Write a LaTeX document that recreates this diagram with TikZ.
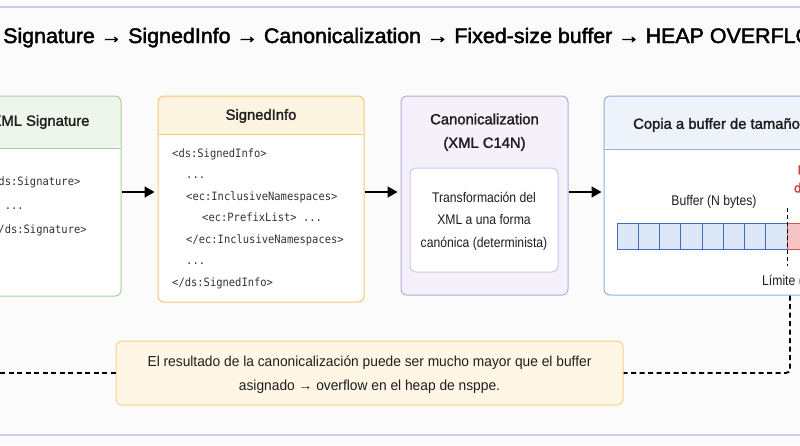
\documentclass[tikz,border=0pt]{standalone}
\usepackage{fontspec}
\setmainfont{Liberation Sans}
\newfontfamily\ttlfont[FakeBold=2,FakeStretch=1.02]{Liberation Sans}
\newfontfamily\hdfont[FakeBold=1.8]{Liberation Sans}
\newfontfamily\bdfont[FakeStretch=0.87]{Liberation Sans}
\newfontfamily\ntfont[FakeStretch=0.95]{Liberation Sans}
\newfontfamily\cdfont[FakeStretch=0.91]{DejaVu Sans Mono}
\usetikzlibrary{arrows.meta}
\definecolor{bgc}{HTML}{FBFBFB}
\definecolor{rulec}{HTML}{C9CEE3}
\definecolor{grnb}{HTML}{A8CF9E}
\definecolor{grnh}{HTML}{EEF6EB}
\definecolor{orb}{HTML}{F6C76E}
\definecolor{orh}{HTML}{FDF3E1}
\definecolor{purb}{HTML}{B9AAD8}
\definecolor{purf}{HTML}{F4F1FA}
\definecolor{puri}{HTML}{CFC4E8}
\definecolor{blub}{HTML}{8FB0DB}
\definecolor{bluh}{HTML}{EEF3FB}
\definecolor{cellf}{HTML}{DCE8F7}
\definecolor{cellb}{HTML}{3F6FB0}
\definecolor{redf}{HTML}{F6C4C4}
\definecolor{redb}{HTML}{D9534F}
\definecolor{redt}{HTML}{D23C3C}
\definecolor{notef}{HTML}{FFF6E5}
\definecolor{noteb}{HTML}{F8D08C}
\definecolor{codec}{HTML}{333333}
\definecolor{txtc}{HTML}{1E1E1E}
\begin{document}
\begin{tikzpicture}[x=1pt,y=-1pt,
  panel/.style n args={3}{draw=#1, fill=white, rounded corners=6pt, line width=1pt, inner sep=0pt,
    path picture={\fill[#2] (path picture bounding box.north west) rectangle ([yshift=-#3]path picture bounding box.north east);
      \draw[#1, line width=1pt] ([yshift=-#3]path picture bounding box.north west) -- ([yshift=-#3]path picture bounding box.north east);}},
  plainbox/.style={rounded corners=6pt, line width=1pt, inner sep=0pt},
  hdtext/.style={font=\hdfont\fontsize{14.8}{18}\selectfont, text=txtc, inner sep=0pt},
  bdtext/.style={font=\bdfont\fontsize{14}{22.5}\selectfont, text=txtc, inner sep=0pt, align=center},
  code/.style={font=\cdfont\fontsize{11.5}{14}\selectfont, text=codec, inner sep=0pt, anchor=base west},
  cell/.style={draw=cellb, fill=cellf, line width=0.8pt, minimum width=21.25pt, minimum height=26pt, inner sep=0pt},
  rcell/.style={draw=redb, fill=redf, line width=0.8pt, minimum width=21.25pt, minimum height=26pt, inner sep=0pt},
  arr/.style={line width=1.6pt, -{Triangle[length=10pt,width=11pt]}},
  fb/.style={line width=1.8pt, dash pattern=on 5pt off 3.5pt},
]
\useasboundingbox (0,0) rectangle (800,445);
\clip (0,0) rectangle (800,445);
\fill[bgc] (0,0) rectangle (800,445);
\draw[rulec, line width=1.5pt] (0,7) -- (800,7);
\draw[rulec, line width=1.5pt] (0,435) -- (800,435);

% title
\node[anchor=base west, inner sep=0pt, text=black, font=\ttlfont\fontsize{21}{25}\selectfont] (title) at (3,43)
  {Signature → SignedInfo → Canonicalization → Fixed-size buffer → HEAP OVERFLOW};

% boxes
\node[panel={grnb}{grnh}{52pt}, minimum width=161pt, minimum height=200pt] (sig) at (40.5,196) {};
\node[panel={orb}{orh}{38pt}, minimum width=206pt, minimum height=206pt] (sinf) at (261,199) {};
\node[plainbox, draw=purb, fill=purf, minimum width=167pt, minimum height=199pt] (c14n) at (484.5,195.5) {};
\node[plainbox, draw=puri, fill=white, minimum width=148pt, minimum height=104pt] (inner) at (484,220) {};
\node[panel={blub}{bluh}{53pt}, minimum width=296pt, minimum height=199pt] (copy) at (752,195.5) {};
\node[plainbox, draw=noteb, fill=notef, minimum width=507pt, minimum height=64pt] (note) at (369.5,373) {};

% box 1 text
\node[hdtext] (sigt) at (40.5,122) {XML Signature};
\node[code] (s1) at (-8,185) {<ds:Signature>};
\node[code] (s2) at (4.6,209) {...};
\node[code] (s3) at (-8,233) {</ds:Signature>};

% box 2 text
\node[hdtext] (sinft) at (261,116) {SignedInfo};
\node[code] (i1) at (172,157) {<ds:SignedInfo>};
\node[code] (i2) at (186,178.5) {...};
\node[code] (i3) at (186,200) {<ec:InclusiveNamespaces>};
\node[code] (i4) at (202,221.5) {<ec:PrefixList> ...};
\node[code] (i5) at (186,243) {</ec:InclusiveNamespaces>};
\node[code] (i6) at (186,264.5) {...};
\node[code] (i7) at (172,286) {</ds:SignedInfo>};

% box 3 text
\node[hdtext] (c14nt1) at (484.5,119) {Canonicalization};
\node[hdtext] (c14nt2) at (484.5,144) {(XML C14N)};
\node[bdtext] (innert) at (484,221) {Transformación del\\XML a una forma\\canónica (determinista)};

% box 4 text
\node[hdtext, anchor=west] (copyt) at (633,125) {Copia a buffer de tamaño fijo};
\node[bdtext] (buft) at (714,202) {Buffer (N bytes)};
\foreach \i in {1,...,8} {\node[cell] (c\i) at ({617+21.25*(\i-0.5)},236) {};}
\foreach \i in {1,...,3} {\node[rcell] (r\i) at ({787+21.25*(\i-0.5)},236) {};}
\draw[line width=0.9pt, dash pattern=on 4pt off 3pt] (787,208) -- (787,266);
\node[font=\hdfont\fontsize{13}{18}\selectfont, text=redt, align=center, inner sep=0pt] (redt) at (819,179) {Exceso\\de datos};
\node[bdtext, anchor=west] (limt) at (762,282) {Límite (N bytes)};

% arrows
\coordinate (row) at (0,192);
\draw[arr] (sig.east |- row) -- ([xshift=-3pt]sinf.west |- row);
\draw[arr] (sinf.east |- row) -- ([xshift=-3pt]c14n.west |- row);
\draw[arr] (c14n.east |- row) -- ([xshift=-2pt]copy.west |- row);

% feedback dashed path
\coordinate (fbx) at (790,0);
\coordinate (lft) at (-10,0);
\draw[fb, rounded corners=4pt] (copy.south -| fbx) |- (note.east);
\draw[fb] (note.west) -- (note.west -| lft);

% note text
\node[font=\ntfont\fontsize{14.5}{24}\selectfont, text=txtc, align=center, inner sep=0pt] (notet) at (369.5,375)
  {El resultado de la canonicalización puede ser mucho mayor que el buffer\\asignado → overflow en el heap de nsppe.};
\end{tikzpicture}
\end{document}
